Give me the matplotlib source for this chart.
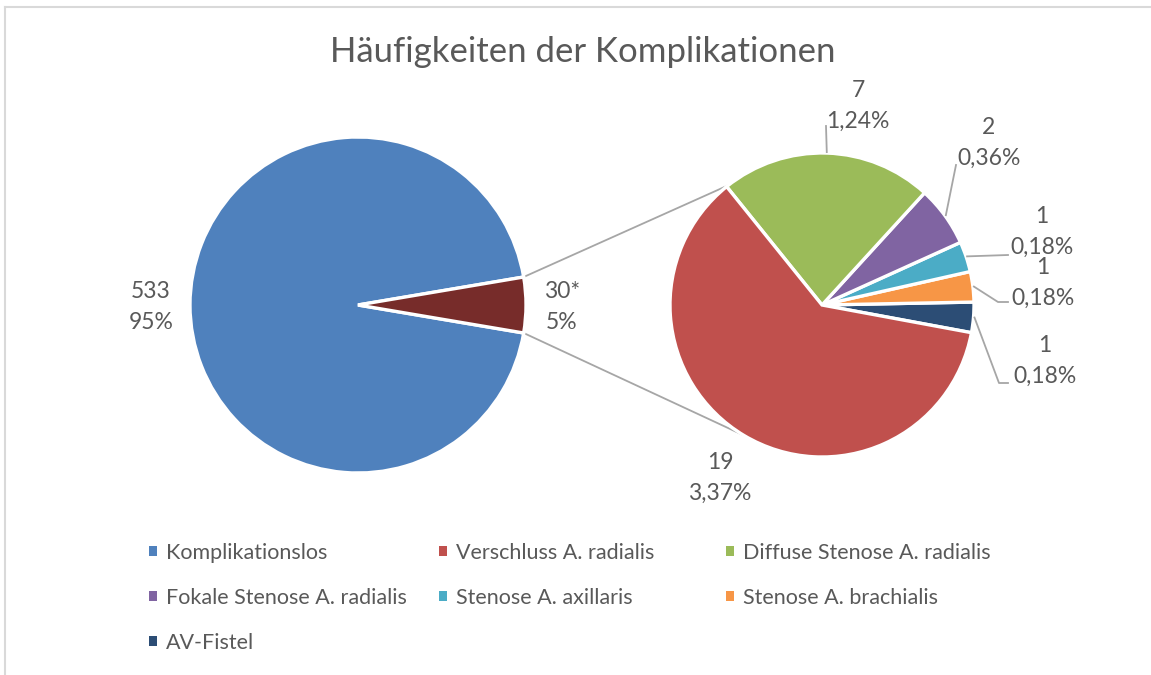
import numpy as np
import matplotlib.pyplot as plt
from matplotlib.patches import Patch
from matplotlib.lines import Line2D

plt.rcParams["font.family"] = ["Lato", "DejaVu Sans"]

W, H = 1151, 675
GREY = "#595959"
LINE = "#A6A6A6"

# first pie: without / with complications
main_counts = [533, 30]
main_text = ["533\n95%", "30*\n5%"]
main_colors = ["#4F81BD", "#772C2A"]

# second pie: the 30 complications
sub_labels = ["Verschluss A. radialis", "Diffuse Stenose A. radialis",
              "Fokale Stenose A. radialis", "Stenose A. axillaris",
              "Stenose A. brachialis", "AV-Fistel"]
sub_counts = [19, 7, 2, 1, 1, 1]
sub_pct = ["3,37%", "1,24%", "0,36%", "0,18%", "0,18%", "0,18%"]
sub_colors = ["#C0504D", "#9BBB59", "#8064A2", "#4BACC6", "#F79646", "#2C4D75"]

legend_labels = ["Komplikationslos"] + sub_labels
legend_colors = [main_colors[0]] + sub_colors

fig = plt.figure(figsize=(W / 100, H / 100), dpi=100)
ax = fig.add_axes([0, 0, 1, 1])


def py(y):
    # pixel row (from top) -> data y
    return H - y


c1, r1 = (358, py(305)), 168
c2, r2 = (822, py(305)), 152
wedge_kw = dict(edgecolor="white", linewidth=2.4)

half = 180 * main_counts[1] / sum(main_counts)
w1, _ = ax.pie(main_counts, colors=main_colors, startangle=half,
               center=c1, radius=r1, wedgeprops=wedge_kw, frame=True)

# second pie drawn counter-clockwise from the small slices up to the big one
w2, _ = ax.pie(sub_counts[::-1], colors=sub_colors[::-1], startangle=-10.5,
               center=c2, radius=r2, wedgeprops=wedge_kw, frame=True)
w2 = w2[::-1]


def on_circle(c, r, ang):
    a = np.deg2rad(ang)
    return c[0] + r * np.cos(a), c[1] + r * np.sin(a)


# connector lines between the pies
small = w1[1]
for a_left, a_right in [(small.theta2, 128), (small.theta1, -121)]:
    x0, y0 = on_circle(c1, r1, a_left)
    x1, y1 = on_circle(c2, r2, a_right)
    ax.plot([x0, x1], [y0, y1], color=LINE, lw=1.3, zorder=0)

lbl_kw = dict(ha="center", va="center", fontsize=16.5, color=GREY, linespacing=1.6)
for txt, pos in zip(main_text, [(151, 307), (562, 307)]):
    ax.text(pos[0], py(pos[1]), txt, **lbl_kw)

sub_pos = [(720, 478), (858, 106), (989, 143), (1042, 232), (1043, 283), (1045, 361)]
leaders = [None, [(826, 126)], [(956, 165)], [(1008, 255)],
           [(998, 302), (1008, 302)], [(999, 383), (1008, 383)]]
for w, n, p, pos, lead in zip(w2, sub_counts, sub_pct, sub_pos, leaders):
    ax.text(pos[0], py(pos[1]), f"{n}\n{p}", **lbl_kw)
    if lead:
        mid = 0.5 * (w.theta1 + w.theta2)
        xs, ys = on_circle(c2, r2 + 1, mid)
        ax.plot([xs] + [q[0] for q in lead], [ys] + [py(q[1]) for q in lead],
                color=LINE, lw=1.3)

ax.text(583, py(52), "Häufigkeiten der Komplikationen", ha="center", va="center",
        fontsize=25, color=GREY)

# legend, three columns filled row by row
col_x = [149, 439, 726]
for i, x0 in enumerate(col_x):
    idx = range(i, len(legend_labels), 3)
    handles = [Patch(facecolor=legend_colors[k], edgecolor="none") for k in idx]
    fig.legend(handles, [legend_labels[k] for k in idx], loc="upper left",
               bbox_to_anchor=(x0, py(543)), bbox_transform=ax.transData,
               frameon=False, borderpad=0, borderaxespad=0,
               handlelength=0.35, handleheight=0.35, handletextpad=0.42,
               labelspacing=1.16, fontsize=15.5, labelcolor=GREY)

ax.set_xlim(0, W)
ax.set_ylim(0, H)
ax.set_aspect("equal")
ax.axis("off")

# chart border (only left and top are visible)
fig.add_artist(Line2D([5 / W, 5 / W], [0, 1 - 7 / H], color="#D9D9D9", lw=1.5))
fig.add_artist(Line2D([5 / W, 1], [1 - 7 / H, 1 - 7 / H], color="#D9D9D9", lw=1.5))

fig.savefig("out.png", dpi=100, facecolor="white")
